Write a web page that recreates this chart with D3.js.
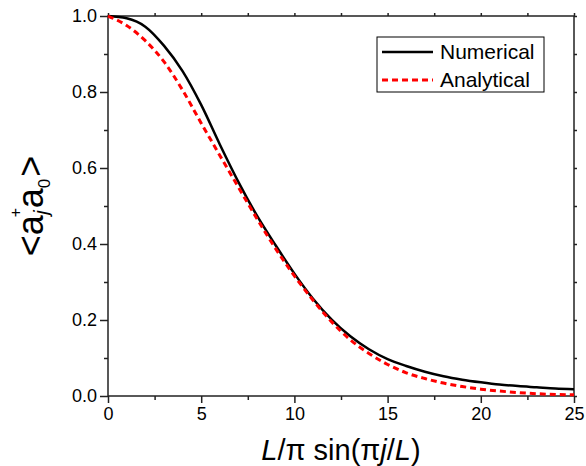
<!DOCTYPE html>
<html>
<head>
<meta charset="utf-8">
<script src="https://cdn.jsdelivr.net/npm/d3@7"></script>
<style>
  body { margin: 0; background: #fff; }
  text { font-family: Arial, "Liberation Sans", sans-serif; }
</style>
</head>
<body>
<svg id="chart" width="586" height="466"></svg>
<script>
// values
var xs = [0, 1, 2, 3, 4, 5, 6, 7, 8, 9, 10, 11, 12, 13, 14, 15, 16, 17, 18, 19, 20, 21, 22, 23, 24, 25];
var numerical = [1.0, 0.994, 0.972, 0.922, 0.855, 0.766, 0.662, 0.563, 0.474, 0.396, 0.322, 0.256, 0.201, 0.157, 0.123, 0.097, 0.079, 0.064, 0.052, 0.043, 0.036, 0.030, 0.026, 0.023, 0.020, 0.018];
var analytical = [1.0, 0.975, 0.935, 0.880, 0.805, 0.718, 0.633, 0.549, 0.466, 0.387, 0.316, 0.252, 0.195, 0.148, 0.112, 0.083, 0.061, 0.046, 0.034, 0.025, 0.018, 0.013, 0.009, 0.006, 0.004, 0.003];
var xTicks = [0, 5, 10, 15, 20, 25];
var yTicks = [0.0, 0.2, 0.4, 0.6, 0.8, 1.0];
var seriesNames = ["Numerical", "Analytical"];

(function () {
    var svg = d3.select("#chart");
    var pLeft = 108, pRight = 574, pTop = 16, pBottom = 396;

    var x = d3.scaleLinear().domain([0, 25]).range([pLeft, pRight]);
    var y = d3.scaleLinear().domain([0, 1]).range([pBottom, pTop]);

    var axisColor = "#222";

    function styleAxis(g) {
        g.attr("font-size", null).attr("font-family", null);
        g.select(".domain").remove();
        g.selectAll("line").attr("stroke", axisColor).attr("stroke-width", 1.5);
        g.selectAll("text").attr("fill", "#000").style("font-size", "18px");
    }

    // minor ticks
    svg.append("g")
        .attr("transform", "translate(0," + pBottom + ")")
        .call(d3.axisBottom(x).tickValues(d3.range(2.5, 25, 5)).tickSize(4).tickFormat(""))
        .call(styleAxis);
    svg.append("g")
        .attr("transform", "translate(" + pLeft + ",0)")
        .call(d3.axisLeft(y).tickValues(d3.range(0.1, 1, 0.2)).tickSize(4).tickFormat(""))
        .call(styleAxis);

    // major ticks
    svg.append("g")
        .attr("transform", "translate(0," + pBottom + ")")
        .call(d3.axisBottom(x).tickValues(xTicks).tickSize(7).tickPadding(4).tickFormat(d3.format("d")))
        .call(styleAxis);
    svg.append("g")
        .attr("transform", "translate(" + pLeft + ",0)")
        .call(d3.axisLeft(y).tickValues(yTicks).tickSize(8).tickPadding(3).tickFormat(d3.format(".1f")))
        .call(styleAxis);

    // mirrored axes, no labels
    svg.append("g")
        .attr("transform", "translate(0," + pTop + ")")
        .call(d3.axisTop(x).tickValues(d3.range(0, 25.1, 2.5)).tickSize(3).tickFormat(""))
        .call(styleAxis);
    svg.append("g")
        .attr("transform", "translate(" + pRight + ",0)")
        .call(d3.axisRight(y).tickValues(d3.range(0, 1.01, 0.1)).tickSize(3).tickFormat(""))
        .call(styleAxis);

    // frame
    svg.append("rect")
        .attr("x", pLeft).attr("y", pTop)
        .attr("width", pRight - pLeft).attr("height", pBottom - pTop)
        .attr("fill", "none")
        .attr("stroke", axisColor)
        .attr("stroke-width", 1.5);

    var line = d3.line()
        .x(function (d) { return x(d[0]); })
        .y(function (d) { return y(d[1]); })
        .curve(d3.curveMonotoneX);

    svg.append("path")
        .datum(xs.map(function (v, i) { return [v, numerical[i]]; }))
        .attr("d", line)
        .attr("fill", "none")
        .attr("stroke", "#000")
        .attr("stroke-width", 2.5);

    svg.append("path")
        .datum(xs.map(function (v, i) { return [v, analytical[i]]; }))
        .attr("d", line)
        .attr("fill", "none")
        .attr("stroke", "#ff0000")
        .attr("stroke-width", 3)
        .attr("stroke-dasharray", "6,4");

    // legend
    var legend = svg.append("g");
    legend.append("rect")
        .attr("x", 377).attr("y", 37)
        .attr("width", 167).attr("height", 55)
        .attr("fill", "#fff")
        .attr("stroke", "#000")
        .attr("stroke-width", 1);

    var legendRows = [
        { name: seriesNames[0], color: "#000", dash: null, width: 2.5, y: 52 },
        { name: seriesNames[1], color: "#ff0000", dash: "6,4", width: 3, y: 80 }
    ];
    legendRows.forEach(function (r) {
        legend.append("line")
            .attr("x1", 382).attr("x2", 433)
            .attr("y1", r.y).attr("y2", r.y)
            .attr("stroke", r.color)
            .attr("stroke-width", r.width)
            .attr("stroke-dasharray", r.dash);
        legend.append("text")
            .attr("x", 440).attr("y", r.y + 7)
            .style("font-size", "21px")
            .text(r.name);
    });

    // x title
    var xt = svg.append("text")
        .attr("x", (pLeft + pRight) / 2)
        .attr("y", 460)
        .attr("text-anchor", "middle")
        .style("font-size", "29px");
    xt.append("tspan").style("font-style", "italic").text("L");
    xt.append("tspan").text("/\u03c0 sin(\u03c0");
    xt.append("tspan").style("font-style", "italic").text("j");
    xt.append("tspan").text("/");
    xt.append("tspan").style("font-style", "italic").text("L");
    xt.append("tspan").text(")");

    // y title
    var yt = svg.append("text")
        .attr("transform", "translate(43," + ((pTop + pBottom) / 2) + ") rotate(-90)")
        .attr("text-anchor", "middle")
        .style("font-size", "36px");
    yt.append("tspan").text("<");
    yt.append("tspan").text("a");
    yt.append("tspan").attr("dx", -2).attr("dy", -22).style("font-size", "16px").text("+");
    yt.append("tspan").attr("dx", -7).attr("dy", 27).style("font-size", "20px").style("font-style", "italic").text("j");
    yt.append("tspan").attr("dx", 2).attr("dy", -5).text("a");
    yt.append("tspan").attr("dy", 7).style("font-size", "17px").text("0");
    yt.append("tspan").attr("dx", 2).attr("dy", -7).text(">");
})();
</script>
</body>
</html>
